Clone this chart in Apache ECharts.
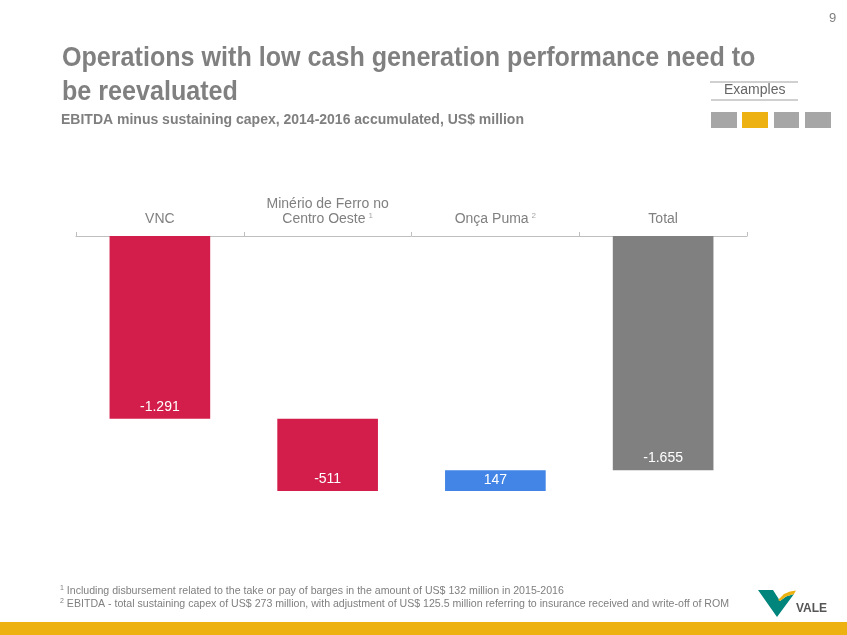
<!DOCTYPE html>
<html>
<head>
<meta charset="utf-8">
<script src="https://cdn.jsdelivr.net/npm/echarts@6/dist/echarts.min.js"></script>
<style>
html,body{margin:0;padding:0;background:#fff;}
#chart{width:847px;height:635px;}
</style>
</head>
<body>
<div id="chart"></div>
<script>
// ---- data ----
var categories = ['VNC', 'Minério de Ferro no\nCentro Oeste', 'Onça Puma', 'Total'];
var superscripts = ['', '1', '2', ''];
var changes = [-1291, -511, 147, -1655];
var isTotal = [false, false, false, true];
var valueLabels = ['-1.291', '-511', '147', '-1.655'];
var barColors = ['#d31e4b', '#d31e4b', '#4285e6', '#808080'];

var titleLines = ['Operations with low cash generation performance need to', 'be reevaluated'];
var subtitle = 'EBITDA minus sustaining capex, 2014-2016 accumulated, US$ million';
var footnotes = [
  'Including disbursement related to the take or pay of barges in the amount of US$ 132 million in 2015-2016',
  'EBITDA - total sustaining capex of US$ 273 million, with adjustment of US$ 125.5 million referring to insurance received and write-off of ROM'
];

(function () {
// ---- build waterfall ----
var baseData = [], valData = [];
var running = 0;
for (var i = 0; i < changes.length; i++) {
  if (isTotal[i]) {
    baseData.push(0);
    valData.push(changes[i]);
    running = changes[i];
  } else {
    var start = running, end = running + changes[i];
    var hi = Math.max(start, end), lo = Math.min(start, end);
    baseData.push(hi);
    valData.push(lo - hi);
    running = end;
  }
}

var chart = echarts.init(document.getElementById('chart'));
var FONT = '"Liberation Sans", Arial, sans-serif';

var catLabels = categories.map(function (c, i) {
  return superscripts[i] ? c + '{sup|' + superscripts[i] + '}' : c;
});

var option = {
  animation: false,
  backgroundColor: '#ffffff',
  grid: { left: 76, right: 100, top: 236, bottom: 116 },
  xAxis: {
    type: 'category',
    position: 'top',
    data: catLabels,
    axisLine: { lineStyle: { color: '#bfbfbf', width: 1 } },
    axisTick: { show: true, length: 4, lineStyle: { color: '#bfbfbf' } },
    axisLabel: {
      color: '#808080', fontFamily: FONT, fontSize: 14, margin: 9, lineHeight: 15,
      rich: { sup: { fontSize: 8, color: '#a6a6a6', verticalAlign: 'top', padding: [0, 0, 8, 3] } }
    }
  },
  yAxis: {
    type: 'value', min: -2000, max: 0, show: false,
    splitLine: { show: false }
  },
  series: [
    {
      type: 'bar', stack: 'w', data: baseData, barWidth: '60%',
      itemStyle: { color: 'transparent' }, silent: true
    },
    {
      type: 'bar', stack: 'w', barWidth: '60%',
      data: valData.map(function (v, i) {
        return {
          value: v,
          itemStyle: { color: barColors[i] },
          label: {
            show: true,
            formatter: valueLabels[i],
            position: changes[i] > 0 ? 'inside' : 'insideBottom',
            distance: 5
          }
        };
      }),
      label: { color: '#ffffff', fontFamily: FONT, fontSize: 14 }
    }
  ],
  graphic: [
    { type: 'text', left: 829, top: 12, style: { text: '9', fill: '#7f7f7f', font: '13px ' + FONT } },
    { type: 'text', x: 62, y: 58.5, scaleX: 0.93, style: { x: 0, y: 0, text: titleLines[0], fill: '#808080', font: 'bold 27px ' + FONT, verticalAlign: 'middle', align: 'left' } },
    { type: 'text', x: 62, y: 92.5, scaleX: 0.93, style: { x: 0, y: 0, text: titleLines[1], fill: '#808080', font: 'bold 27px ' + FONT, verticalAlign: 'middle', align: 'left' } },
    { type: 'text', left: 61, top: 113, style: { text: subtitle, fill: '#7f7f7f', font: 'bold 14px ' + FONT } },
    { type: 'line', shape: { x1: 710, y1: 82, x2: 798, y2: 82 }, style: { stroke: '#c0c0c0', lineWidth: 1.5 } },
    { type: 'line', shape: { x1: 711, y1: 100, x2: 798, y2: 100 }, style: { stroke: '#c0c0c0', lineWidth: 1.5 } },
    { type: 'text', left: 724, top: 83, style: { text: 'Examples', fill: '#666666', font: '14px ' + FONT } },
    { type: 'rect', shape: { x: 711, y: 112, width: 26, height: 16 }, style: { fill: '#a6a6a6' } },
    { type: 'rect', shape: { x: 742, y: 112, width: 26, height: 16 }, style: { fill: '#edb111' } },
    { type: 'rect', shape: { x: 774, y: 112, width: 25, height: 16 }, style: { fill: '#a6a6a6' } },
    { type: 'rect', shape: { x: 805, y: 112, width: 26, height: 16 }, style: { fill: '#a6a6a6' } },
    { type: 'text', left: 60, top: 585, style: {
        text: '{s|1} ' + footnotes[0], fill: '#7f7f7f', font: '10.6px ' + FONT,
        rich: { s: { fontSize: 7, verticalAlign: 'top', fill: '#7f7f7f', padding: [0, 0, 5, 0] } } } },
    { type: 'text', left: 60, top: 598, style: {
        text: '{s|2} ' + footnotes[1], fill: '#7f7f7f', font: '10.6px ' + FONT,
        rich: { s: { fontSize: 7, verticalAlign: 'top', fill: '#7f7f7f', padding: [0, 0, 5, 0] } } } },
    { type: 'rect', shape: { x: 0, y: 622, width: 847, height: 13 }, style: { fill: '#edb111' } },
    // VALE logo
    { type: 'polygon', shape: { points: [[758, 590], [773, 590], [780, 601], [786, 596.5], [794, 594], [777, 617]] }, style: { fill: '#00857d' } },
    { type: 'polygon', shape: { points: [[778, 600], [784, 594], [790, 591.5], [796, 590.5], [794, 594], [786, 596.5], [780, 601]] }, style: { fill: '#edb111' } },
    { type: 'text', left: 796, top: 603, style: { text: 'VALE', fill: '#555555', font: 'bold 12px ' + FONT } }
  ]
};
chart.setOption(option);
})();
</script>
</body>
</html>
